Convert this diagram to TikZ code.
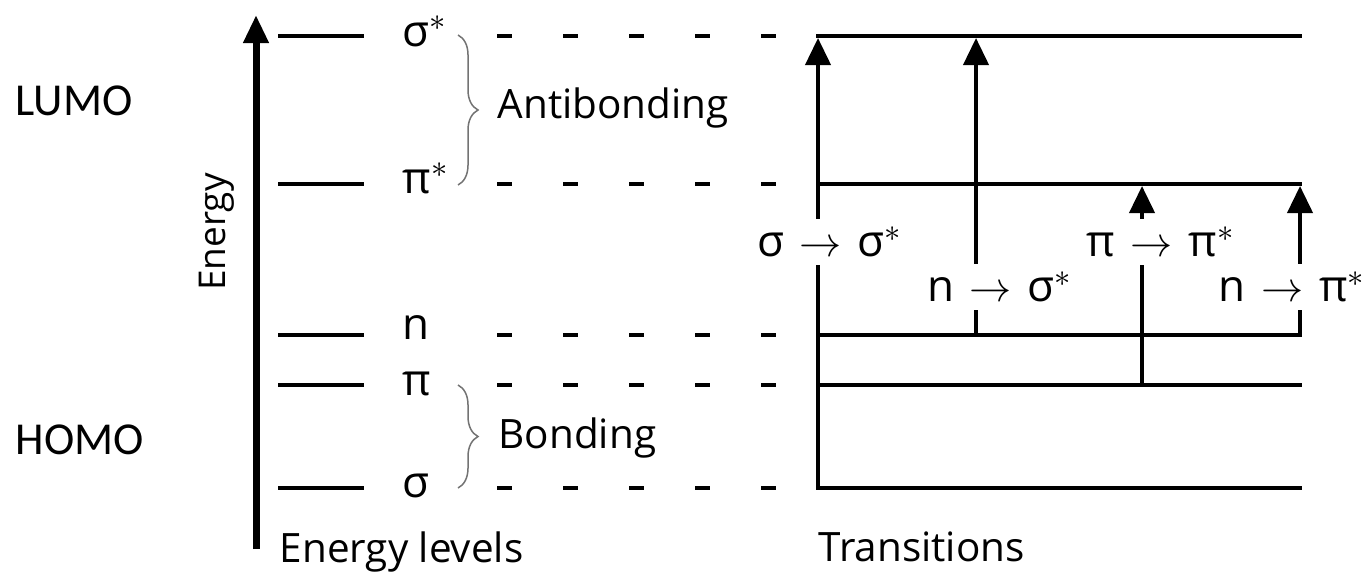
\documentclass[tikz,border=0pt]{standalone}
\usepackage{fontspec}
\setmainfont{Open Sans}
\newfontfamily\calibri{Carlito}
\usetikzlibrary{positioning}
\usetikzlibrary{arrows.meta}
\usetikzlibrary{decorations.pathreplacing}

\newcommand{\transl}[2]{#1\hspace{4.5pt}$\rightarrow$\hspace{4.5pt}#2$^*$}

\tikzset{
    orbline/.style={line width=0.04cm, line cap=rect},
    guide/.style={line width=0.035cm, dash pattern=on 0.15cm off 0.51cm},
    trans/.style={line width=0.04cm, line cap=rect, -{Triangle[width=0.25cm,length=0.27cm]}, shorten >=0.02cm},
    orb/.style={font=\fontsize{12.5}{14}\selectfont, anchor=base west, inner sep=0pt},
    tlabel/.style={font=\fontsize{12.5}{14}\selectfont, fill=white, inner xsep=1pt, inner ysep=0pt, minimum height=0.46cm},
    grp/.style={decorate, decoration={brace, amplitude=0.2cm}, black!55, line width=0.015cm},
    txt/.style={font=\fontsize{11.5}{13}\selectfont, inner sep=0pt},
    mo/.style={font=\calibri\fontsize{13}{15}\selectfont, inner sep=0pt, anchor=west}
}

\begin{document}
\begin{tikzpicture}[x=0.01cm, y=-0.01cm]
    \useasboundingbox (0,0) rectangle (1368,575);

    % energy axis
    \coordinate (ebot) at (256,549);
    \coordinate (etop) at (256,15);
    \draw[line width=0.07cm, -{Triangle[width=0.24cm,length=0.28cm]}] (ebot) -- (etop);
    \node[txt, font=\fontsize{10.5}{12}\selectfont, rotate=90] (energy) at (217,232) {Energy};

    \node[mo] (lumo) at (15,101) {LUMO};
    \node[mo] (homo) at (15,440) {HOMO};

    % levels, left and right
    \foreach \nm/\y/\dy/\lab in {sa/36/10/σ$^*$, pa/184/9/π$^*$, n/335/4/n, p/385/10/π, s/488/9/σ}{
        \coordinate (l\nm) at (280,\y);
        \coordinate (m\nm) at (362,\y);
        \coordinate (d\nm) at (497,\y);
        \coordinate (f\nm) at (776,\y);
        \coordinate (r\nm) at (818,\y);
        \coordinate (e\nm) at (1300,\y);
        \node[orb] (o\nm) at (402,\y+\dy) {\lab};
        \draw[orbline] (l\nm) -- (m\nm);
        \draw[guide] (d\nm) -- (f\nm);
        \draw[orbline] (r\nm) -- (e\nm);
    }

    % braces
    \coordinate (ab1) at (458,35);
    \coordinate (ab2) at (458,185);
    \coordinate (bb1) at (458,385);
    \coordinate (bb2) at (458,488);
    \draw[grp] (ab1) -- (ab2);
    \draw[grp] (bb1) -- (bb2);
    \node[txt, anchor=base west] (anti) at (497,118) {Antibonding};
    \node[txt, anchor=base west] (bond) at (498,448) {Bonding};

    % transitions
    \coordinate (x2) at (976,0);
    \coordinate (x3) at (1142,0);
    \coordinate (x4) at (1300,0);
    \draw[trans] (rs) -- (rsa);
    \draw[trans] (x2 |- rn) -- (x2 |- rsa);
    \draw[trans] (x3 |- rp) -- (x3 |- rpa);
    \draw[trans] (x4 |- rn) -- (x4 |- rpa);

    \node[tlabel] (ss) at (830,242) {\transl{σ}{σ}};
    \node[tlabel] (ns) at (1000,287) {\transl{n}{σ}};
    \node[tlabel] (pp) at (1161,242) {\transl{π}{π}};
    \node[tlabel] (np) at (1292,287) {\transl{n}{π}};

    \node[txt, anchor=base west] (elev) at (279,562) {Energy levels};
    \node[txt, anchor=base west] (tran) at (818,561) {Transitions};
\end{tikzpicture}
\end{document}
